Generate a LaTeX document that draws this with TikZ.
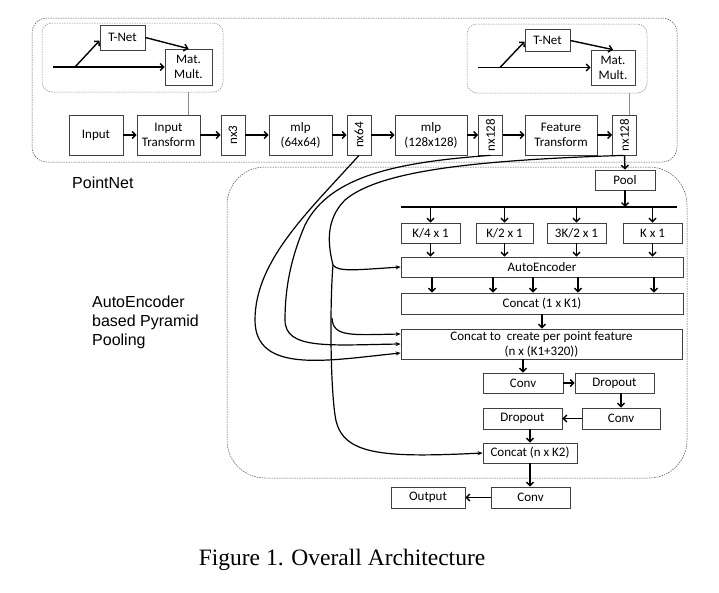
\documentclass[tikz,border=0pt]{standalone}
\usepackage{fontspec}
\newfontfamily\boxfont{Carlito}
\newfontfamily\labelfont{Liberation Sans}
\newfontfamily\capfont{Liberation Serif}
\usetikzlibrary{arrows.meta,calc,positioning}

\begin{document}
\begin{tikzpicture}[x=1pt, y=-1pt,
  box/.style={draw=black!75, line width=0.7pt, fill=white, align=center, inner sep=1pt,
    font=\boxfont\fontsize{13}{15}\selectfont},
  frame/.style={draw=black!70, dash pattern=on 1.5pt off 1pt, line width=0.5pt, rounded corners=15pt},
  subframe/.style={draw=black!45, dash pattern=on 1.5pt off 1pt, line width=0.5pt, rounded corners=10pt},
  dotline/.style={draw=black!45, line width=0.5pt},
  arr/.style={-{Straight Barb[length=3.5pt,width=7pt]}, line width=1.4pt},
  crv/.style={-{Stealth[length=5pt,width=4pt]}, line width=1.2pt},
  lbl/.style={font=\labelfont\fontsize{16}{19}\selectfont, align=left, inner sep=0pt}]

  \useasboundingbox (0,0) rectangle (719,592);

  % 1. 枠（点線）
  \node[frame, minimum width=645pt, minimum height=144pt] (pnet) at (354.5,90) {};
  \node[subframe, minimum width=181pt, minimum height=69pt] (tsa) at (132.5,57.5) {};
  \node[subframe, minimum width=180pt, minimum height=69pt] (tsb) at (557,58.5) {};
  \node[frame, rounded corners=38pt, minimum width=460pt, minimum height=311pt] (aepp) at (457,322.5) {};

  % 2. PointNet の列
  \node[box, minimum width=54pt, minimum height=40pt] (inp) at (96,135) {Input};
  \node[box, minimum width=63pt, minimum height=40pt] (itr) at (168.5,135) {Input\\Transform};
  \node[box, minimum width=24pt, minimum height=40pt] (nxa) at (233,135) {\rotatebox{90}{nx3}};
  \node[box, minimum width=63pt, minimum height=40pt] (mlpa) at (300.5,135) {mlp\\(64x64)};
  \node[box, minimum width=24pt, minimum height=40pt] (nxb) at (359,135) {\rotatebox{90}{nx64}};
  \node[box, minimum width=72pt, minimum height=40pt] (mlpb) at (431,135) {mlp\\(128x128)};
  \node[box, minimum width=24pt, minimum height=40pt] (nxc) at (490.5,135) {\rotatebox{90}{nx128}};
  \node[box, minimum width=72pt, minimum height=40pt] (ftr) at (561,135) {Feature\\Transform};
  \node[box, minimum width=24pt, minimum height=40pt] (nxd) at (624.5,135) {\rotatebox{90}{nx128}};
  \foreach \a/\b in {inp/itr, itr/nxa, nxa/mlpa, mlpa/nxb, nxb/mlpb, mlpb/nxc, nxc/ftr, ftr/nxd}
    \draw[arr] (\a) -- (\b);

  % 3. T-Net（左右）
  \node[box, minimum width=45pt, minimum height=25pt] (tna) at (122.5,37.5) {T-Net};
  \node[box, minimum width=47pt, minimum height=36pt] (mma) at (188.5,67) {Mat.\\Mult.};
  \coordinate (ina) at (53,67);
  \coordinate (bra) at (75,67);
  \draw[arr] (ina) -- (mma.west);
  \draw[arr] (bra) -- ($(tna.west)+(0,3)$);
  \draw[arr] (tna.east) -- (mma.north);
  \draw[dotline] (tsa.south -| mma.south) -- (itr.north -| mma.south);

  \node[box, minimum width=45pt, minimum height=22pt] (tnb) at (547.5,40.5) {T-Net};
  \node[box, minimum width=44pt, minimum height=35pt] (mmb) at (613,67.5) {Mat.\\Mult.};
  \coordinate (inb) at (478,67.5);
  \coordinate (brb) at (500,67.5);
  \draw[arr] (inb) -- (mmb.west);
  \draw[arr] (brb) -- ($(tnb.west)+(0,1)$);
  \draw[arr] (tnb.east) -- (mmb.north);
  \draw[dotline] ($(nxd.north)+(5,0)$) -- ($(nxd.north)+(5,-22)$);

  % 4. Pyramid pooling
  \node[box, minimum width=60pt, minimum height=20pt] (pool) at (625,180) {Pool};
  \draw[arr] (nxd.south) -- (pool.north);
  \coordinate (barl) at (401,207);
  \coordinate (barr) at (677,207);
  \draw[line width=1.8pt] (barl) -- (barr);
  \draw[arr] (pool.south) -- (pool.south |- barl);

  \node[box, minimum width=59pt, minimum height=20pt] (ka) at (430.5,233) {K/4 x 1};
  \node[box, minimum width=57pt, minimum height=20pt] (kb) at (504.5,233) {K/2 x 1};
  \node[box, minimum width=59pt, minimum height=20pt] (kc) at (576.5,233) {3K/2 x 1};
  \node[box, minimum width=59pt, minimum height=20pt] (kd) at (652.5,233) {K x 1};
  \node[box, minimum width=282pt, minimum height=20pt] (ae) at (542,267) {AutoEncoder};
  \foreach \k in {ka,kb,kc,kd} {
    \draw[arr] (\k.north |- barl) -- (\k.north);
    \draw[arr] (\k.south) -- (\k.south |- ae.north);
  }
  \node[box, minimum width=282pt, minimum height=21pt] (c1) at (542,303.5) {Concat (1 x K1)};
  \foreach \x in {432,493,533,578,654}
    \draw[arr] (ae.south -| \x,0) -- (c1.north -| \x,0);

  \node[box, minimum width=281pt, minimum height=30pt] (cpp) at (541.5,344)
    {Concat to\ \ create per point feature\\(n x (K1+320))};
  \draw[arr] (c1.south) -- (c1.south |- cpp.north);

  % 5. Conv / Dropout
  \node[box, minimum width=80pt, minimum height=20pt] (cva) at (523,383) {Conv};
  \node[box, minimum width=79pt, minimum height=20pt] (dra) at (614.5,383) {Dropout};
  \node[box, minimum width=78pt, minimum height=21pt] (cvb) at (621,418.5) {Conv};
  \node[box, minimum width=79pt, minimum height=21pt] (drb) at (522.5,418.5) {Dropout};
  \node[box, minimum width=94pt, minimum height=20pt] (ck2) at (530,453) {Concat (n x K2)};
  \node[box, minimum width=79pt, minimum height=21pt] (cvc) at (530.5,497.5) {Conv};
  \node[box, minimum width=74pt, minimum height=21pt] (out) at (428,497.5) {Output};
  \draw[arr] (cpp.south -| cva.north) -- (cva.north);
  \draw[arr] (cva) -- (dra);
  \draw[arr] (dra.south -| cvb.north) -- (cvb.north);
  \draw[arr] (cvb) -- (drb);
  \draw[arr] (drb.south -| ck2.north) -- (ck2.north);
  \draw[arr] (ck2.south) -- (ck2.south |- cvc.north);
  \draw[arr] (cvc) -- (out);

  % 6. 特徴のスキップ接続（曲線）
  \coordinate (ca) at (333,265);
  \coordinate (cb) at (332,318);
  \draw[crv] (nxb.south) .. controls (310,210) and (255,260) .. (255,320)
    .. controls (255,375) and (330,360) .. ($(cpp.west)+(0,9)$);
  \draw[crv] (nxc.south) .. controls (400,162) and (330,175) .. (305,225)
    .. controls (290,260) and (285,290) .. (285,320)
    .. controls (285,350) and (330,345) .. (cpp.west);
  \draw[crv] (nxd.south) .. controls (480,160) and (380,170) .. (345,200)
    .. controls (325,220) and (328,245) .. (ca)
    .. controls (338,272) and (355,270) .. (ae.west);
  \draw[crv] (ca) .. controls (330,300) and (330,380) .. (335,415)
    .. controls (340,455) and (380,458) .. (ck2.west);
  \draw[crv] (cb) .. controls (333,337) and (350,335) .. ($(cpp.west)+(0,-10)$);

  % 7. ラベル
  \node[lbl, anchor=west] (pnlab) at (72,183) {PointNet};
  \node[lbl, anchor=north west] (aelab) at (92,296) {AutoEncoder\\based Pyramid\\Pooling};
  \node[font=\capfont\fontsize{23.5}{27}\selectfont] (cap) at (342,560) {Figure 1. Overall Architecture};

\end{tikzpicture}
\end{document}
